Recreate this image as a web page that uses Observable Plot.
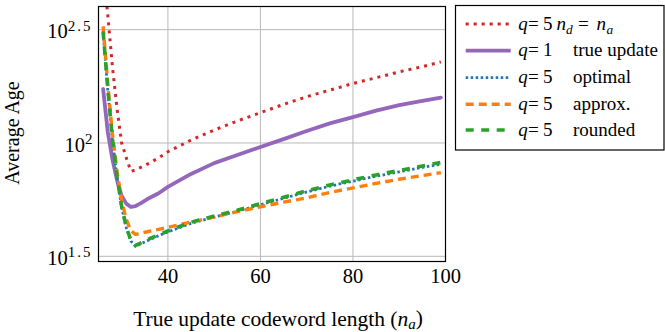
<!DOCTYPE html>
<html><head><meta charset="utf-8">
<script src="https://cdn.jsdelivr.net/npm/d3@7"></script>
<script src="https://cdn.jsdelivr.net/npm/@observablehq/plot@0.6"></script>
<style>html,body{margin:0;padding:0;background:#fff;} #chart{width:665px;height:332px;overflow:hidden}</style>
</head><body><div id="chart"></div>
<script>
// ---- data ----
const codewordLength = [26,27,28,29,30,31,32,33,34,36,38,40,45,50,55,60,65,70,75,80,85,90,95,99];
const ageNdEqNa     = [600,368,218,142,100,86,75,76,77.8,81.5,86,91.5,103,114,125,136,148,160,171,183,194,206,217,228];
const ageTrueUpdate = [173,112,85,68.5,58.5,54,52.2,52.7,54,57.2,60,64,73,81.5,88.5,96,104,113,122,130,139,147,153.5,158.5];
const ageOptimal    = [305,172,104,70.5,52,42.3,36.9,35,35.8,37.4,39,40.5,44.2,47.1,50,53.4,57,60.8,64.5,67.9,71.3,74.6,78,80.6];
const ageApprox     = [327,182,110,75,56,46,41,39.5,39.9,40.8,41.6,42.4,44.8,47.1,49.8,52.3,54.8,57.3,60.5,63.4,66.3,69.2,71.8,74];
const ageRounded    = [311,174,105,71.3,52.5,42.7,37.2,35.3,36.1,37.8,39.3,40.9,44.7,47.6,50.5,54,57.6,61.5,65.3,68.8,72.3,75.6,79.2,82];
const seriesKeys = ["ndna","true","optimal","approx","rounded"];
const seriesValues = [ageNdEqNa, ageTrueUpdate, ageOptimal, ageApprox, ageRounded];
const xTicks = [40,60,80,100];
const yTicks = [Math.pow(10,1.5), 100, Math.pow(10,2.5)];

// ---- styles ----
const styles = {
  ndna:    {stroke:"#d62728", width:3,   dash:"3,5"},
  true:    {stroke:"#9467bd", width:3.8, dash:null},
  optimal: {stroke:"#1f77b4", width:2.8, dash:"2.5,2.5"},
  approx:  {stroke:"#ff7f0e", width:3.4, dash:"8,5"},
  rounded: {stroke:"#2ca02c", width:3.6, dash:"8,7.5"}
};
const FONT = '"Liberation Serif", "Times New Roman", serif';
const FS = 19;
const TICKFS = 20.5;

const tables = seriesKeys.map((k,i) => codewordLength.map((x,j) => ({x, y: seriesValues[i][j], key:k})));

const lineMarks = seriesKeys.map((k,i) => Plot.line(tables[i], {
  x:"x", y:"y", stroke: styles[k].stroke, strokeWidth: styles[k].width,
  strokeDasharray: styles[k].dash || undefined,
  strokeLinecap: styles[k].dash ? "butt" : "round", strokeLinejoin:"round",
  clip: true
}));

const chart = Plot.plot({
  width: 665, height: 332,
  marginLeft: 98, marginRight: 220, marginTop: 6, marginBottom: 71,
  style: {fontFamily: FONT, fontSize: FS + "px", background:"#fff", color:"#000", overflow:"visible"},
  x: {domain:[25,100]},
  y: {type:"log", domain:[30,400]},
  marks: [
    Plot.gridX(xTicks, {stroke:"#b8b8b8", strokeOpacity:1, strokeWidth:1}),
    Plot.gridY(yTicks, {stroke:"#b8b8b8", strokeOpacity:1, strokeWidth:1}),
    ...lineMarks,
    Plot.frame({stroke:"#000", strokeWidth:1.2}),
    Plot.axisX(xTicks, {tickSize:0, tickPadding:7, label:null, fontSize:TICKFS}),
    Plot.axisY(yTicks, {tickSize:0, tickPadding:6, label:null, fontSize:TICKFS,
      tickFormat: d => String(Math.round(Math.log10(d)*10)/10)})
  ]
});
document.getElementById("chart").appendChild(chart);

const svg = d3.select(chart);
// superscript exponent tick labels
svg.selectAll('g[aria-label="y-axis tick label"] text').each(function(){
  const e = this.textContent;
  const t = d3.select(this);
  t.text("");
  t.append("tspan").attr("dy","0.1em").text("10");
  t.append("tspan").attr("dy","-0.5em").attr("font-size", "15px").attr("letter-spacing", e.length>1 ? "2px" : null).text(e);
});

// axis titles
svg.append("text").attr("transform","translate(19,133) rotate(-90)")
  .attr("text-anchor","middle").attr("font-family",FONT).attr("font-size","20px").text("Average Age");
const xl = svg.append("text").attr("x",278).attr("y",326).attr("text-anchor","middle")
  .attr("font-family",FONT).attr("font-size","21.5px");
xl.append("tspan").text("True update codeword length (");
xl.append("tspan").attr("font-style","italic").text("n");
xl.append("tspan").attr("font-style","italic").attr("font-size","15px").attr("dy","0.22em").text("a");
xl.append("tspan").attr("dy","-0.22em").text(")");

// legend
const lg = svg.append("g").attr("font-family",FONT).attr("font-size",FS+"px").attr("text-anchor","start");
lg.append("rect").attr("x",455.5).attr("y",5.5).attr("width",208.5).attr("height",144.5)
  .attr("fill","#fff").attr("stroke","#000").attr("stroke-width",1.2);
const rowY = [24, 50.7, 77.7, 104.3, 130];
const labelParts = {
  ndna:    [["q",518.3,"it"],["=",528,"rm"],["5",543,"rm"],["n",556.5,"it"],["d",566,"sub"],["=",578,"rm"],["n",596.5,"it"],["a",606.5,"sub"]],
  true:    [["q",518.3,"it"],["=",528,"rm"],["1",543,"rm"],["true update",573,"rm"]],
  optimal: [["q",518.3,"it"],["=",528,"rm"],["5",543,"rm"],["optimal",573,"rm"]],
  approx:  [["q",518.3,"it"],["=",528,"rm"],["5",543,"rm"],["approx.",573,"rm"]],
  rounded: [["q",518.3,"it"],["=",528,"rm"],["5",543,"rm"],["rounded",573,"rm"]]
};
seriesKeys.forEach((k,i) => {
  const y = rowY[i], s = styles[k];
  lg.append("line").attr("x1",465.7).attr("x2",510.7).attr("y1",y).attr("y2",y)
    .attr("stroke",s.stroke).attr("stroke-width",s.width)
    .attr("stroke-dasharray",s.dash).attr("stroke-linecap","butt");
  const t = lg.append("text").attr("text-anchor","start");
  labelParts[k].forEach(([txt,x,kind]) => {
    const sp = t.append("tspan").attr("x",x).attr("text-anchor","start").text(txt);
    if (kind === "it") sp.attr("font-style","italic").attr("y", y + 5.5);
    if (kind === "rm") sp.attr("y", y + 5.5);
    if (kind === "sub") sp.attr("font-style","italic").attr("font-size",(FS*0.7)+"px").attr("y", y + 9.5);
  });
});
svg.selectAll("text, tspan").style("font-family", FONT);
</script>
</body></html>
